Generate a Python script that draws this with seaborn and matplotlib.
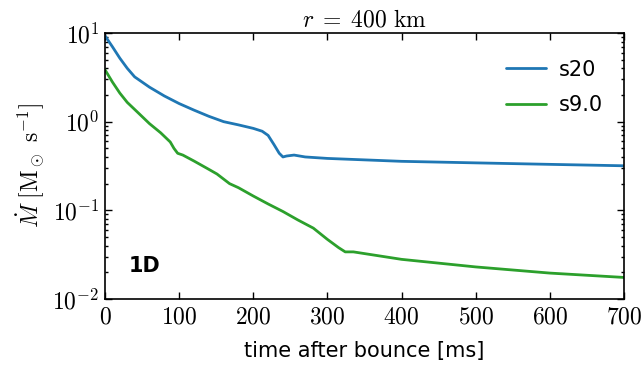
import numpy as np
import pandas as pd
import matplotlib
matplotlib.use("Agg")
import matplotlib.pyplot as plt
import matplotlib.ticker as mticker
import seaborn as sns

# ---- data ----
t_s20 = [0, 10, 20, 30, 40, 60, 80, 100, 120, 140, 160, 180, 200, 212, 220, 228,
         235, 240, 245, 255, 270, 300, 400, 500, 600, 700]
m_s20 = [9.3, 7.0, 5.2, 4.0, 3.2, 2.45, 1.95, 1.6, 1.35, 1.15, 1.0, 0.92, 0.84,
         0.78, 0.70, 0.55, 0.44, 0.40, 0.41, 0.42, 0.40, 0.385, 0.357, 0.343, 0.33, 0.318]

t_s9 = [0, 10, 20, 30, 43, 60, 75, 88, 93, 98, 105, 120, 140, 151, 160, 168, 180,
        200, 220, 240, 260, 281, 300, 315, 324, 335, 345, 400, 500, 600, 700]
m_s9 = [3.85, 2.8, 2.1, 1.65, 1.3, 0.95, 0.75, 0.59, 0.5, 0.44, 0.42, 0.36, 0.29,
        0.257, 0.225, 0.20, 0.18, 0.145, 0.118, 0.097, 0.078, 0.063, 0.047, 0.038,
        0.034, 0.034, 0.033, 0.028, 0.023, 0.0196, 0.0175]

labels = ["s20", "s9.0"]
colors = ["#1f77b4", "#2ca02c"]
x_ticks = [0, 100, 200, 300, 400, 500, 600, 700]
y_ticks = [1e-2, 1e-1, 1e0, 1e1]

df = pd.concat([
    pd.DataFrame({"t": t_s20, "mdot": m_s20, "model": labels[0]}),
    pd.DataFrame({"t": t_s9, "mdot": m_s9, "model": labels[1]}),
], ignore_index=True)

sns.set_style("ticks")
plt.rcParams["font.family"] = ["DejaVu Sans"]
plt.rcParams["mathtext.fontset"] = "cm"
for k in ["text.color", "axes.labelcolor", "xtick.color", "ytick.color", "axes.edgecolor"]:
    plt.rcParams[k] = "black"

fig = plt.figure(figsize=(6.44, 3.67), dpi=100)
ax = fig.add_axes([105/644, 1-299/367, (624-105)/644, (299-33)/367])

sns.lineplot(data=df, x="t", y="mdot", hue="model", palette=colors,
             hue_order=labels, linewidth=2.0, ax=ax, legend=True)

ax.set_yscale("log")
ax.set_xlim(0, 700)
ax.set_ylim(1e-2, 1e1)
ax.set_xticks(x_ticks)
ax.set_xticklabels([r"$%d$" % v for v in x_ticks], fontsize=17)
ax.yaxis.set_major_locator(mticker.FixedLocator(y_ticks))
ax.set_yticklabels([r"$10^{%d}$" % int(np.log10(v)) for v in y_ticks], fontsize=17)
ax.yaxis.set_minor_locator(mticker.LogLocator(base=10, subs=np.arange(2, 10)))
ax.yaxis.set_minor_formatter(mticker.NullFormatter())

ax.tick_params(which="both", direction="in", top=True, right=True, width=1.0)
ax.tick_params(which="major", length=5, pad=4)
ax.tick_params(which="minor", length=2.5)
for s in ax.spines.values():
    s.set_linewidth(1.2)

ax.set_xlabel("time after bounce [ms]", fontsize=15, labelpad=9)
ax.set_ylabel(r"$\dot{M}\ [\mathrm{M}_\odot\ \mathrm{s}^{-1}]$", fontsize=17, labelpad=4)
ax.set_title(r"$r\;=\;400\ \mathrm{km}$", fontsize=17, pad=5)

leg = ax.legend(frameon=False, loc="upper right", fontsize=15, handlelength=1.9,
                handletextpad=0.6, bbox_to_anchor=(0.995, 0.97), labelspacing=0.75)
ax.text(0.045, 0.10, "1D", transform=ax.transAxes, fontsize=15, fontweight="bold")

fig.savefig("out.png", dpi=100)
